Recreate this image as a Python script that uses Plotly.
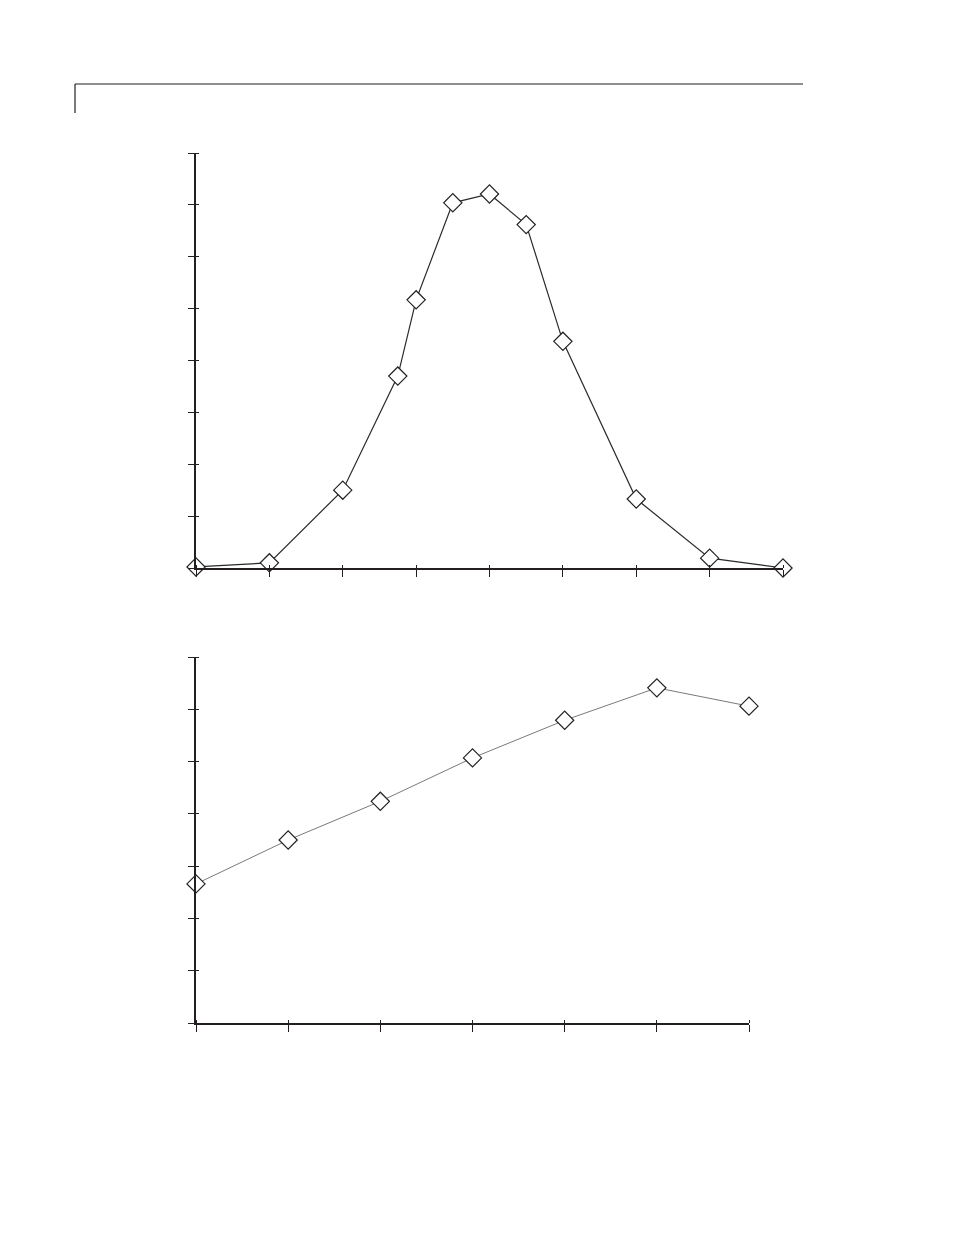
import plotly.graph_objects as go

W, H = 954, 1235
OFF = 8  # default page body margin
FW, FH = W - 2 * OFF, H - 2 * OFF

# Top chart data (arbitrary units; no labels in reference)
x_top = [0, 1, 2, 2.75, 3, 3.5, 4, 4.5, 5, 6, 7, 8]
y_top = [0.02, 0.1, 1.5, 3.7, 5.17, 7.04, 7.21, 6.62, 4.37, 1.33, 0.19, 0.0]

# Bottom chart data
x_bot = [0, 1, 2, 3, 4, 5, 6]
y_bot = [2.66, 3.50, 4.24, 5.07, 5.79, 6.41, 6.06]

top_xticks = list(range(0, 9))
top_yticks = list(range(0, 9))
bot_xticks = list(range(0, 7))
bot_yticks = list(range(0, 8))

def px(x):
    return (x - OFF) / FW

def py(y):
    return 1 - (y - OFF) / FH

AX = "#231f20"
marker = dict(symbol="diamond", size=14, color="white", line=dict(color="#222", width=1.2))

fig = go.Figure()
fig.add_trace(go.Scatter(x=x_top, y=y_top, mode="lines+markers", xaxis="x", yaxis="y",
                         line=dict(color="#2a2a2a", width=1.2), marker=marker, cliponaxis=False,
                         showlegend=False))
fig.add_trace(go.Scatter(x=x_bot, y=y_bot, mode="lines+markers", xaxis="x2", yaxis="y2",
                         line=dict(color="#7a7a7a", width=1), marker=marker, cliponaxis=False,
                         showlegend=False))

def axis(domain, rng, tv, anchor, outlen):
    return dict(domain=domain, range=rng, tickvals=tv, anchor=anchor, ticks="outside", ticklen=outlen,
                tickwidth=1.3, tickcolor=AX, showline=True, linecolor=AX, linewidth=1.5,
                minor=dict(tickvals=tv, ticks="inside", ticklen=3, tickwidth=1.3, tickcolor=AX,
                           showgrid=False),
                showgrid=False, zeroline=False, showticklabels=False, fixedrange=True)

top_xd = [px(196), px(783)]
top_yd = [py(568), py(153)]
bot_xd = [px(196), px(749)]
bot_yd = [py(1023), py(657)]

fig.update_layout(
    width=FW, height=FH, margin=dict(l=0, r=0, t=0, b=0),
    paper_bgcolor="white", plot_bgcolor="white",
    xaxis=axis(top_xd, [0, 8], top_xticks, "y", 7),
    yaxis=axis(top_yd, [0, 8], top_yticks, "x", 6),
    xaxis2=axis(bot_xd, [0, 6], bot_xticks, "y2", 7),
    yaxis2=axis(bot_yd, [0, 7], bot_yticks, "x2", 6),
    shapes=[
        dict(type="line", xref="paper", yref="paper", x0=px(75), x1=px(803), y0=py(84), y1=py(84),
             line=dict(color=AX, width=1.2)),
        dict(type="line", xref="paper", yref="paper", x0=px(75), x1=px(75), y0=py(84), y1=py(113),
             line=dict(color=AX, width=1.2)),
    ],
)

fig.write_html("out.html")
